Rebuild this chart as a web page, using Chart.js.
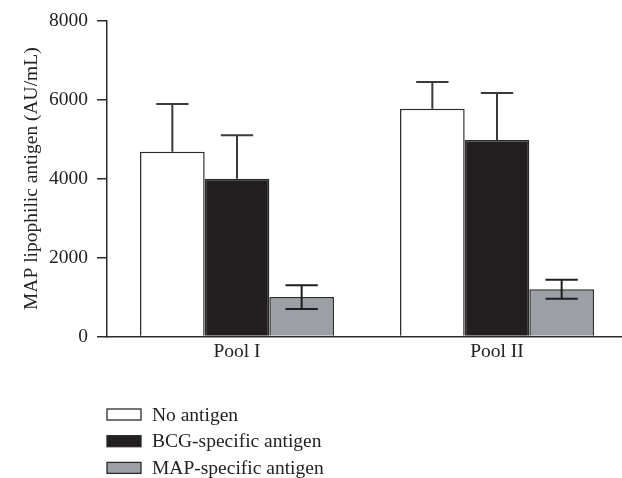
<!DOCTYPE html>
<html>
<head>
<meta charset="utf-8">
<script src="https://cdn.jsdelivr.net/npm/chart.js@4"></script>
<style>
  html, body { margin: 0; padding: 0; background: #fff; overflow: hidden; }
  #wrap { width: 627px; height: 478px; }
</style>
</head>
<body>
<div id="wrap"><canvas id="poolChart" width="627" height="478"></canvas></div>
<script>
const categories = ['Pool I', 'Pool II'];
const noAntigen = [4680, 5770];
const noAntigenErr = [1210, 680];
const bcgAntigen = [4000, 4980];
const bcgAntigenErr = [1100, 1190];
const mapAntigen = [1000, 1200];
const mapAntigenErr = [300, 240];
const yTicks = [0, 2000, 4000, 6000, 8000];

const serif = "'Liberation Serif', 'DejaVu Serif', serif";
const ink = '#2a2a2a';
const fontSize = 19.5;

// error bars: white/black bars only show the upper whisker, gray shows both
const errorBars = {
  id: 'errorBars',
  afterDatasetsDraw(chart) {
    const c = chart.ctx;
    const y = chart.scales.y;
    chart.data.datasets.forEach((ds, i) => {
      const meta = chart.getDatasetMeta(i);
      meta.data.forEach((bar, j) => {
        const v = ds.data[j], e = ds.errors[j];
        const x = bar.x;
        const half = bar.width / 4;
        const top = y.getPixelForValue(v + e);
        const bottom = ds.bothSides ? y.getPixelForValue(v - e) : y.getPixelForValue(v);
        c.save();
        c.strokeStyle = ds.bothSides ? '#1e1e1e' : '#3a3a3a';
        c.lineWidth = 2;
        c.beginPath();
        c.moveTo(x, top); c.lineTo(x, bottom);
        c.moveTo(x - half, top); c.lineTo(x + half, top);
        if (ds.bothSides) { c.moveTo(x - half, bottom); c.lineTo(x + half, bottom); }
        c.stroke();
        c.restore();
      });
    });
  }
};

// legend stacked at the bottom left
const stackedLegend = {
  id: 'stackedLegend',
  afterDraw(chart) {
    const c = chart.ctx;
    c.save();
    c.font = fontSize + 'px ' + serif;
    c.textBaseline = 'middle';
    chart.data.datasets.forEach((ds, i) => {
      const cy = 414.5 + i * 26.7;
      c.fillStyle = ds.backgroundColor;
      c.fillRect(107, cy - 5.5, 34, 11);
      c.strokeStyle = ink;
      c.lineWidth = 1.3;
      c.strokeRect(107, cy - 5.5, 34, 11);
      c.fillStyle = '#222';
      c.fillText(ds.label, 152, cy + 1);
    });
    c.restore();
  }
};

const ctx = document.getElementById('poolChart');
new Chart(ctx, {
  type: 'bar',
  data: {
    labels: categories,
    datasets: [{
      label: 'No antigen',
      data: noAntigen,
      errors: noAntigenErr,
      backgroundColor: '#ffffff',
      borderColor: ink,
      borderWidth: 1.5
    }, {
      label: 'BCG-specific antigen',
      data: bcgAntigen,
      errors: bcgAntigenErr,
      backgroundColor: '#231f20',
      borderColor: ink,
      borderWidth: 1.5
    }, {
      label: 'MAP-specific antigen',
      data: mapAntigen,
      errors: mapAntigenErr,
      bothSides: true,
      backgroundColor: '#9d9fa6',
      borderColor: ink,
      borderWidth: 1.5
    }]
  },
  options: {
    responsive: false,
    animation: false,
    layout: { padding: { left: 20, top: 8, right: 0, bottom: 110 } },
    categoryPercentage: 0.746,
    barPercentage: 1,
    plugins: {
      legend: { display: false },
      tooltip: { enabled: false }
    },
    scales: {
      x: {
        grid: { display: false, drawTicks: false },
        border: { display: true, color: ink, width: 1.5 },
        ticks: { color: '#222', font: { family: serif, size: fontSize }, padding: 4 }
      },
      y: {
        min: 0,
        max: 8000,
        afterBuildTicks: (s) => { s.ticks = yTicks.map(v => ({ value: v })); },
        afterFit: (s) => { s.width = 87; },
        grid: { drawOnChartArea: false, drawTicks: true, tickLength: 10, color: ink, lineWidth: 1.5 },
        border: { display: true, color: ink, width: 1.5 },
        ticks: {
          color: '#222',
          font: { family: serif, size: fontSize },
          padding: 9,
          callback: (v) => String(v)
        },
        title: {
          display: true,
          text: 'MAP lipophilic antigen (AU/mL)',
          color: '#222',
          font: { family: serif, size: fontSize },
          padding: 0
        }
      }
    }
  },
  plugins: [errorBars, stackedLegend]
});
</script>
</body>
</html>
